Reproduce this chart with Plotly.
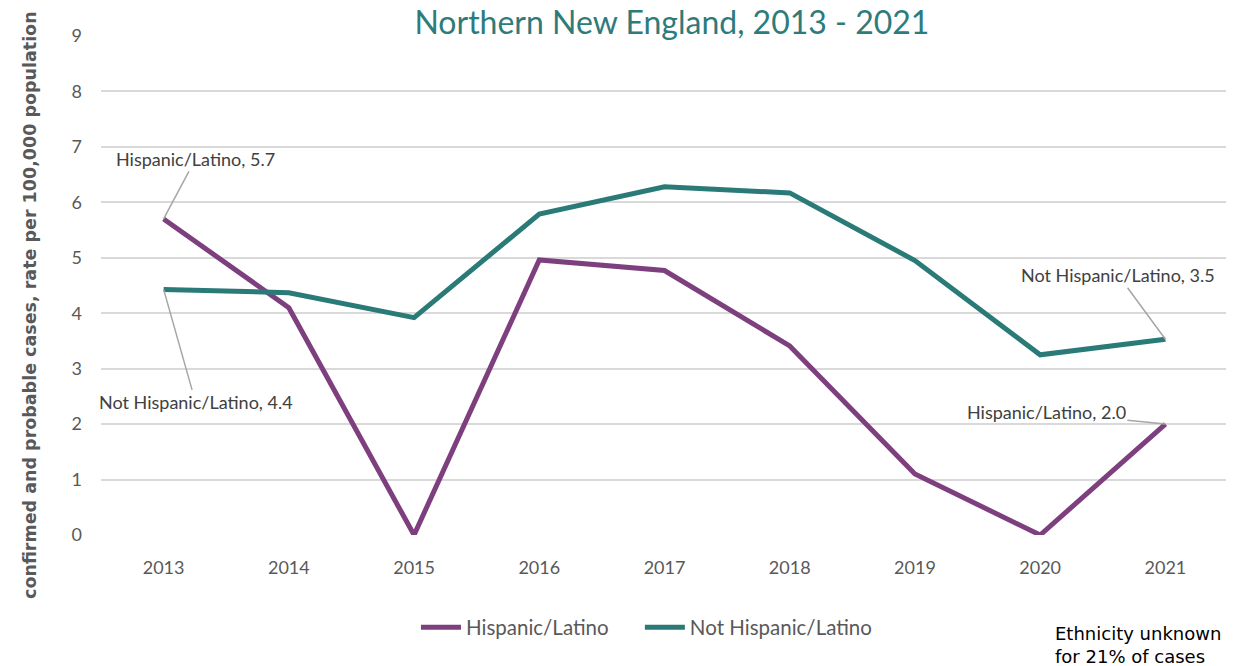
import plotly.graph_objects as go

years = ["2013", "2014", "2015", "2016", "2017", "2018", "2019", "2020", "2021"]
hispanic = [5.7, 4.1, 0.0, 4.96, 4.77, 3.41, 1.1, 0.0, 2.0]
not_hispanic = [4.43, 4.37, 3.92, 5.79, 6.28, 6.17, 4.95, 3.25, 3.53]

purple = "#7E3F7E"
teal = "#2A7A78"
gray_txt = "#595959"

fig = go.Figure()
fig.add_trace(go.Scatter(x=years, y=hispanic, mode="lines",
                         name="Hispanic/Latino" + "&nbsp;" * 5,
                         line=dict(color=purple, width=5)))
fig.add_trace(go.Scatter(x=years, y=not_hispanic, mode="lines", name="Not Hispanic/Latino",
                         line=dict(color=teal, width=5)))

ann_font = dict(family="Lato, sans-serif", size=18, color="#404040")
arrow = dict(showarrow=True, arrowhead=0, arrowwidth=1.5, arrowcolor="#A6A6A6",
             xref="x", yref="y")
first, last = 0, len(years) - 1
annotations = [
    dict(x=first, y=hispanic[first], text="Hispanic/Latino, 5.7", ax=32, ay=-60, font=ann_font, **arrow),
    dict(x=first, y=not_hispanic[first], text="Not Hispanic/Latino, 4.4", ax=32, ay=113, font=ann_font, **arrow),
    dict(x=last, y=not_hispanic[last], text="Not Hispanic/Latino, 3.5", ax=-47, ay=-64, font=ann_font, **arrow),
    dict(x=last, y=hispanic[last], text="Hispanic/Latino, 2.0", ax=-119, ay=-12, font=ann_font, **arrow),
    dict(xref="paper", yref="paper", x=-0.063, y=0.461, xanchor="center", yanchor="middle",
         textangle=-90, showarrow=False,
         text="confirmed and probable cases, rate per 100,000 population",
         font=dict(family="DejaVu Sans", size=17.5, color=gray_txt, weight="bold")),
    dict(xref="paper", yref="paper", x=0.845, y=-0.172, xanchor="left", yanchor="top",
         align="left", showarrow=False,
         text="Ethnicity unknown<br>for 21% of cases",
         font=dict(family="DejaVu Sans", size=18, color="#000000")),
]

fig.update_layout(
    width=1234, height=666,
    paper_bgcolor="white", plot_bgcolor="white",
    margin=dict(l=93, r=14, t=28, b=139),
    title=dict(text="Northern New England, 2013 - 2021", x=0.538, xanchor="center",
               y=1 - 4 / 666, yanchor="top", yref="container",
               font=dict(family="Lato, sans-serif", size=32, color="#2E7B7B")),
    xaxis=dict(type="category", range=[-0.5, 8.5], showgrid=False, zeroline=False,
               showline=False, ticks="", ticklabelstandoff=20,
               tickfont=dict(family="Lato, sans-serif", size=18, color=gray_txt)),
    yaxis=dict(range=[0, 9], dtick=1, showgrid=True, gridcolor="#D9D9D9", gridwidth=1.5,
               zeroline=False, showline=False, ticks="", ticklabelstandoff=18,
               tickfont=dict(family="Lato, sans-serif", size=18, color=gray_txt)),
    legend=dict(orientation="h", x=0.484, xanchor="center", y=-0.185, yanchor="middle",
                font=dict(family="Lato, sans-serif", size=20.5, color=gray_txt),
                itemwidth=40, tracegroupgap=0),
    annotations=annotations,
    showlegend=True,
)

fig.write_html("out.html")
